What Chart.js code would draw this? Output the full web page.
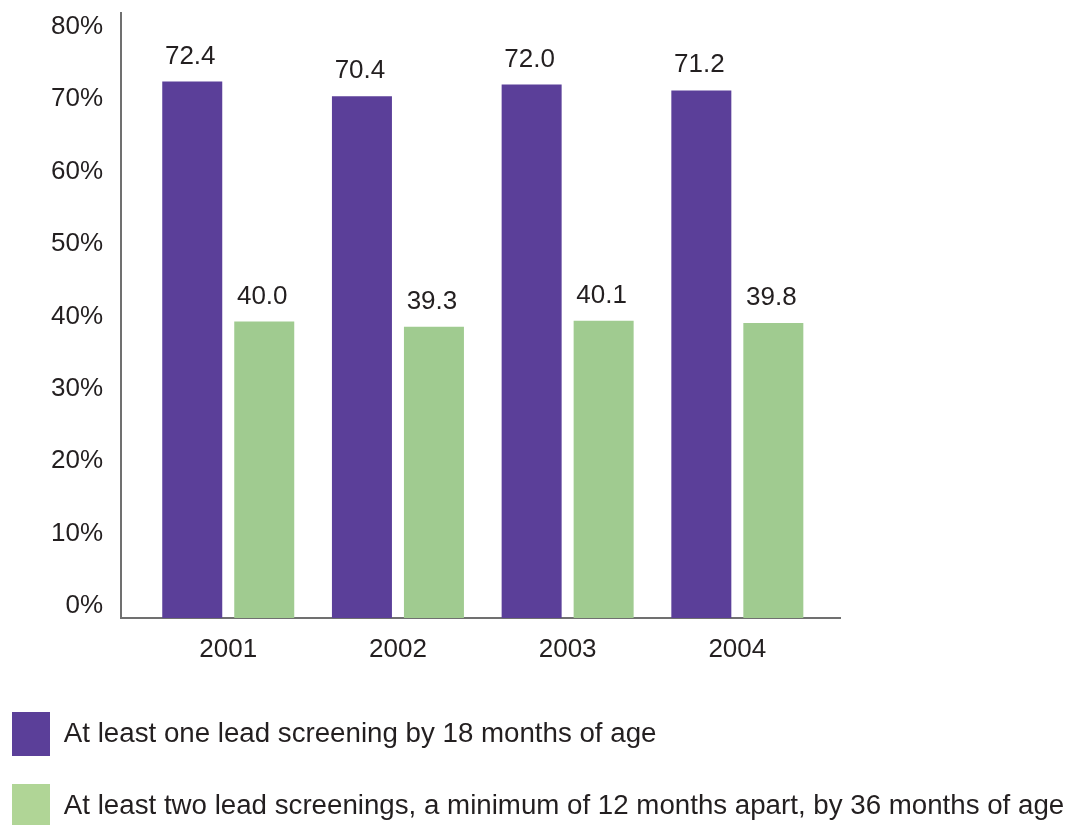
<!DOCTYPE html>
<html>
<head>
<meta charset="utf-8">
<script src="https://cdn.jsdelivr.net/npm/chart.js@4/dist/chart.umd.min.js"></script>
<style>
html,body{margin:0;padding:0;overflow:hidden;background:#fff;width:1075px;height:825px}
#wrap{position:absolute;left:-16px;top:0;width:1091px;height:838px}
</style>
</head>
<body>
<div id="wrap"><canvas id="c" width="1091" height="838"></canvas></div>
<script>
// ---- data ----
const years = ['2001', '2002', '2003', '2004'];
const oneScreening = [72.4, 70.4, 72.0, 71.2];
const twoScreenings = [40.0, 39.3, 40.1, 39.8];
const seriesNames = [
  'At least one lead screening by 18 months of age',
  'At least two lead screenings, a minimum of 12 months apart, by 36 months of age'
];
const seriesColors = ['#5b3f99', '#a0cb90'];
const legendColors = ['#5b3f99', '#b0d596'];

const FONT = '"Liberation Sans", Arial, Helvetica, sans-serif';
const TEXT = '#231f20';
const AXIS = '#707070';

Chart.defaults.font.family = FONT;
Chart.defaults.color = TEXT;

const toPoints = arr => arr.map((v, i) => ({ x: i, y: v }));

const valueLabels = {
  id: 'valueLabels',
  afterDatasetsDraw(chart) {
    const ctx = chart.ctx;
    ctx.save();
    ctx.font = '26px ' + FONT;
    ctx.fillStyle = TEXT;
    ctx.textAlign = 'center';
    ctx.textBaseline = 'alphabetic';
    chart.data.datasets.forEach((ds, di) => {
      chart.getDatasetMeta(di).data.forEach((bar, i) => {
        ctx.fillText(ds.data[i].y.toFixed(1), bar.x - 2, bar.y - 18);
      });
    });
    ctx.restore();
  }
};

new Chart(document.getElementById('c'), {
  type: 'bar',
  data: {
    datasets: [
      { label: seriesNames[0], data: toPoints(oneScreening), backgroundColor: seriesColors[0], borderWidth: 0, yAxisID: 'y' },
      { label: seriesNames[1], data: toPoints(twoScreenings), backgroundColor: seriesColors[1], borderWidth: 0, yAxisID: 'y' }
    ]
  },
  options: {
    responsive: false,
    maintainAspectRatio: false,
    animation: false,
    devicePixelRatio: 1,
    categoryPercentage: 0.8486,
    barPercentage: 0.8333,
    layout: { padding: { top: 13, left: 0, right: 0, bottom: 0 } },
    plugins: {
      tooltip: { enabled: false },
      legend: {
        position: 'bottom',
        align: 'start',
        labels: {
          boxWidth: 38,
          boxHeight: 44,
          padding: 28,
          color: TEXT,
          font: { size: 27.7, family: FONT },
          generateLabels(chart) {
            const items = Chart.defaults.plugins.legend.labels.generateLabels(chart);
            items.forEach((it, i) => { it.fillStyle = legendColors[i]; it.lineWidth = 0; });
            return items;
          }
        }
      }
    },
    scales: {
      x: {
        type: 'linear',
        offset: false,
        min: -0.632,
        max: 3.605,
        grid: { display: false, drawTicks: false },
        border: { display: true, color: AXIS, width: 2 },
        ticks: {
          stepSize: 1,
          includeBounds: false,
          padding: 16,
          color: TEXT,
          font: { size: 26, family: FONT },
          callback: v => (Number.isInteger(v) && years[v] !== undefined) ? years[v] : ''
        },
        afterFit(s) { s.height = 66; }
      },
      y: {
        display: false,
        min: 0,
        max: 81.65
      },
      yl: {
        position: 'left',
        min: -1.657,
        max: 81.91,
        grid: { display: false, drawTicks: true, tickLength: 18 },
        border: { display: true, color: AXIS, width: 2 },
        ticks: {
          stepSize: 10,
          includeBounds: false,
          padding: 0,
          color: TEXT,
          font: { size: 26, family: FONT, lineHeight: 1 },
          callback: v => (v >= 0 && Math.abs(v % 10) < 1e-6) ? v + '%' : ''
        },
        afterFit(s) { s.width = 137; }
      },
      yr: {
        position: 'right',
        display: true,
        grid: { display: false, drawTicks: false },
        border: { display: false },
        ticks: { display: false },
        afterFit(s) { s.width = 235; }
      }
    }
  },
  plugins: [valueLabels]
});
</script>
</body>
</html>
